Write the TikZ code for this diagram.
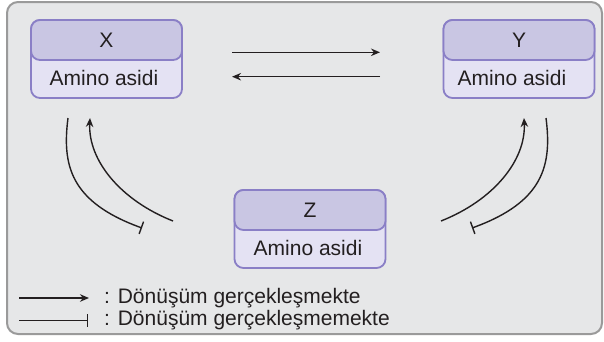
\documentclass[tikz,border=0pt]{standalone}
\usepackage{fontspec}
\setmainfont{Liberation Sans}
\usetikzlibrary{arrows.meta}

\definecolor{panelbg}{HTML}{E6E7E8}
\definecolor{panelrim}{HTML}{9A9A9A}
\definecolor{headfill}{HTML}{C9C6E3}
\definecolor{bodyfill}{HTML}{E4E2F3}
\definecolor{boxrim}{HTML}{8A7FC6}
\definecolor{ink}{HTML}{231F20}

\tikzset{
  bodybox/.style={draw=boxrim, line width=1.8pt, fill=bodyfill, rounded corners=9pt,
    minimum width=151pt, minimum height=78pt, inner sep=0pt},
  headbox/.style={draw=boxrim, line width=1.8pt, fill=headfill, rounded corners=9pt,
    minimum width=151pt, minimum height=40pt, inner sep=0pt, anchor=north},
  txt/.style={font=\fontsize{21}{25}\selectfont, text=ink, inner sep=0pt},
  goes/.style={draw=ink, line width=1.4pt, -{Stealth[length=9pt,width=7.5pt]}},
  blocked/.style={draw=ink, line width=1.4pt, -{Bar[width=13pt,line width=1.4pt]}},
}

\begin{document}
\begin{tikzpicture}[x=1pt,y=-1pt]
  \useasboundingbox (0,0) rectangle (604,341);
  % panel
  \draw[fill=panelbg, draw=panelrim, line width=2pt, rounded corners=11pt]
    (7,2) rectangle (602,334);

  % amino acid boxes
  \node[bodybox] (xb) at (106.5,59) {};
  \node[headbox] (xh) at (xb.north) {};
  \node[txt] (xt) at (xh.center) {X};
  \node[txt] (xa) at (104,77.5) {Amino asidi};

  \node[bodybox] (yb) at (519,59) {};
  \node[headbox] (yh) at (yb.north) {};
  \node[txt] (yt) at (yh.center) {Y};
  \node[txt] (ya) at (512,77.5) {Amino asidi};

  \node[bodybox] (zb) at (310,229) {};
  \node[headbox] (zh) at (zb.north) {};
  \node[txt] (zt) at (zh.center) {Z};
  \node[txt] (za) at (308,247.5) {Amino asidi};

  % X <-> Y
  \coordinate (xy1) at (232,52.3);
  \coordinate (xy2) at (380,52.3);
  \coordinate (yx1) at (380,76.7);
  \coordinate (yx2) at (232,76.7);
  \draw[goes] (xy1) -- (xy2);
  \draw[goes] (yx1) -- (yx2);

  % X <-> Z
  \coordinate (xz1) at (68,118);
  \coordinate (xz2) at (142,228);
  \coordinate (zx1) at (173,221);
  \coordinate (zx2) at (90,118);
  \draw[blocked] (xz1) .. controls (62,165) and (70,202) .. (xz2);
  \draw[goes] (zx1) .. controls (120,200) and (88,160) .. (zx2);

  % Y <-> Z
  \coordinate (yz1) at (546,118);
  \coordinate (yz2) at (472,228);
  \coordinate (zy1) at (441,221);
  \coordinate (zy2) at (524,118);
  \draw[blocked] (yz1) .. controls (552,165) and (544,202) .. (yz2);
  \draw[goes] (zy1) .. controls (494,200) and (526,160) .. (zy2);

  % legend
  \coordinate (l1a) at (19,298);
  \coordinate (l1b) at (89,298);
  \coordinate (l2a) at (19,320.5);
  \coordinate (l2b) at (88,320.5);
  \draw[goes] (l1a) -- (l1b);
  \draw[blocked] (l2a) -- (l2b);
  \node[txt, anchor=west] (lg1) at (104,298) {: Dönüşüm gerçekleşmekte};
  \node[txt, anchor=west] (lg2) at (104,320.5) {: Dönüşüm gerçekleşmemekte};
\end{tikzpicture}
\end{document}
